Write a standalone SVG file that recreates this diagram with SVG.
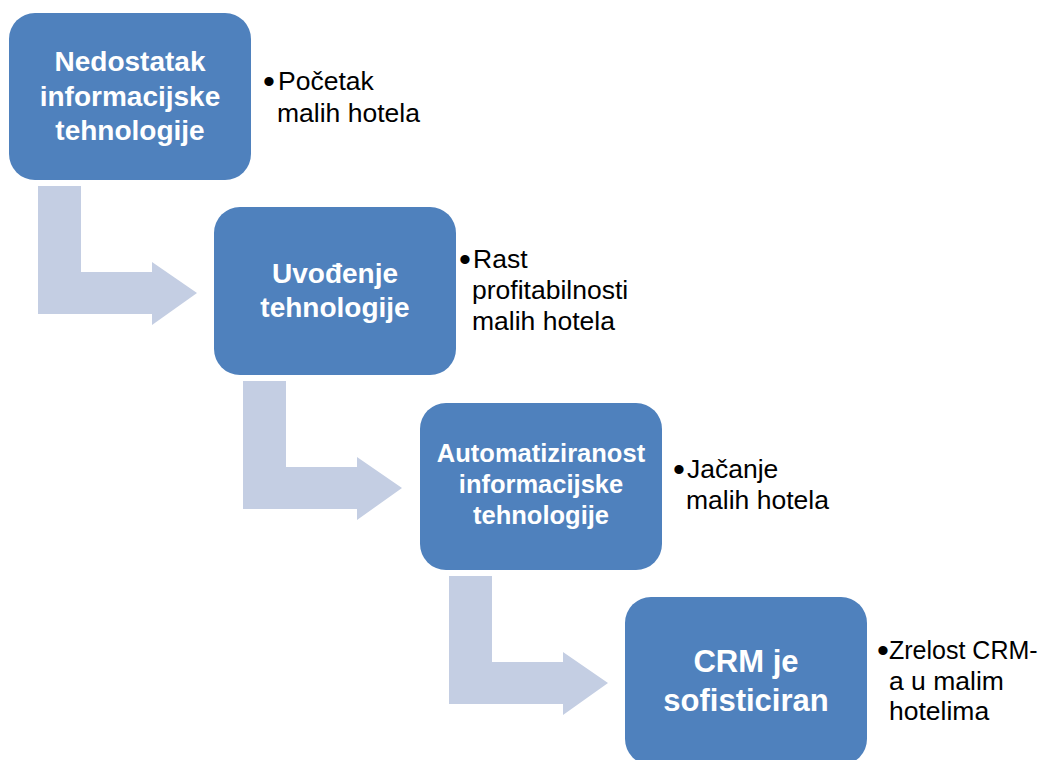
<svg xmlns="http://www.w3.org/2000/svg" width="1043" height="760" viewBox="0 0 1043 760">
<defs>
<style>
.box{fill:#4f81bd;}
.arrow{fill:#c4cee3;}
.bt{font-family:"Liberation Sans",Arial,sans-serif;font-weight:bold;fill:#ffffff;text-anchor:middle;}
.st{font-family:"Liberation Sans",Arial,sans-serif;font-size:26.5px;fill:#000000;}
.bl{font-size:34px;}
</style>
<path id="bend" d="M0,0 H43 V86 H114 V76 L159,107 L114,139 V128 H0 Z"/>
</defs>
<rect width="1043" height="760" fill="#ffffff"/>
<g id="connectors">
<use href="#bend" class="arrow" x="38" y="186"/>
<use href="#bend" class="arrow" x="243" y="381"/>
<use href="#bend" class="arrow" x="449" y="576"/>
</g>
<g id="node1">
<rect class="box" x="9" y="13" width="242" height="167" rx="26"/>
<text class="bt" font-size="28" x="130" y="71">Nedostatak</text>
<text class="bt" font-size="28" x="130" y="106">informacijske</text>
<text class="bt" font-size="28" x="130" y="140">tehnologije</text>
</g>
<g id="note1">
<text class="st" x="263" y="90"><tspan class="bl" dy="3">•</tspan><tspan x="278" dy="-3">Početak</tspan></text>
<text class="st" x="277" y="122">malih hotela</text>
</g>
<g id="node2">
<rect class="box" x="214" y="207" width="242" height="168" rx="26"/>
<text class="bt" font-size="28" x="335" y="283">Uvođenje</text>
<text class="bt" font-size="28" x="335" y="317">tehnologije</text>
</g>
<g id="note2">
<text class="st" x="459" y="268"><tspan class="bl" dy="3">•</tspan><tspan x="473" dy="-3">Rast</tspan></text>
<text class="st" x="472" y="299">profitabilnosti</text>
<text class="st" x="472" y="330">malih hotela</text>
</g>
<g id="node3">
<rect class="box" x="420" y="403" width="242" height="167" rx="26"/>
<text class="bt" font-size="25.5" x="541" y="462">Automatiziranost</text>
<text class="bt" font-size="25.5" x="541" y="493">informacijske</text>
<text class="bt" font-size="25.5" x="541" y="524">tehnologije</text>
</g>
<g id="note3">
<text class="st" x="673" y="478"><tspan class="bl" dy="3">•</tspan><tspan x="687" dy="-3">Jačanje</tspan></text>
<text class="st" x="686" y="509">malih hotela</text>
</g>
<g id="node4">
<rect class="box" x="625" y="597" width="242" height="168" rx="26"/>
<text class="bt" font-size="31" x="746" y="672">CRM je</text>
<text class="bt" font-size="31" x="746" y="711">sofisticiran</text>
</g>
<g id="note4">
<text class="st" x="877" y="659"><tspan class="bl" dy="3">•</tspan><tspan x="889" dy="-3" font-size="25">Zrelost CRM-</tspan></text>
<text class="st" x="889" y="690">a u malim</text>
<text class="st" x="889" y="720">hotelima</text>
</g>
</svg>
